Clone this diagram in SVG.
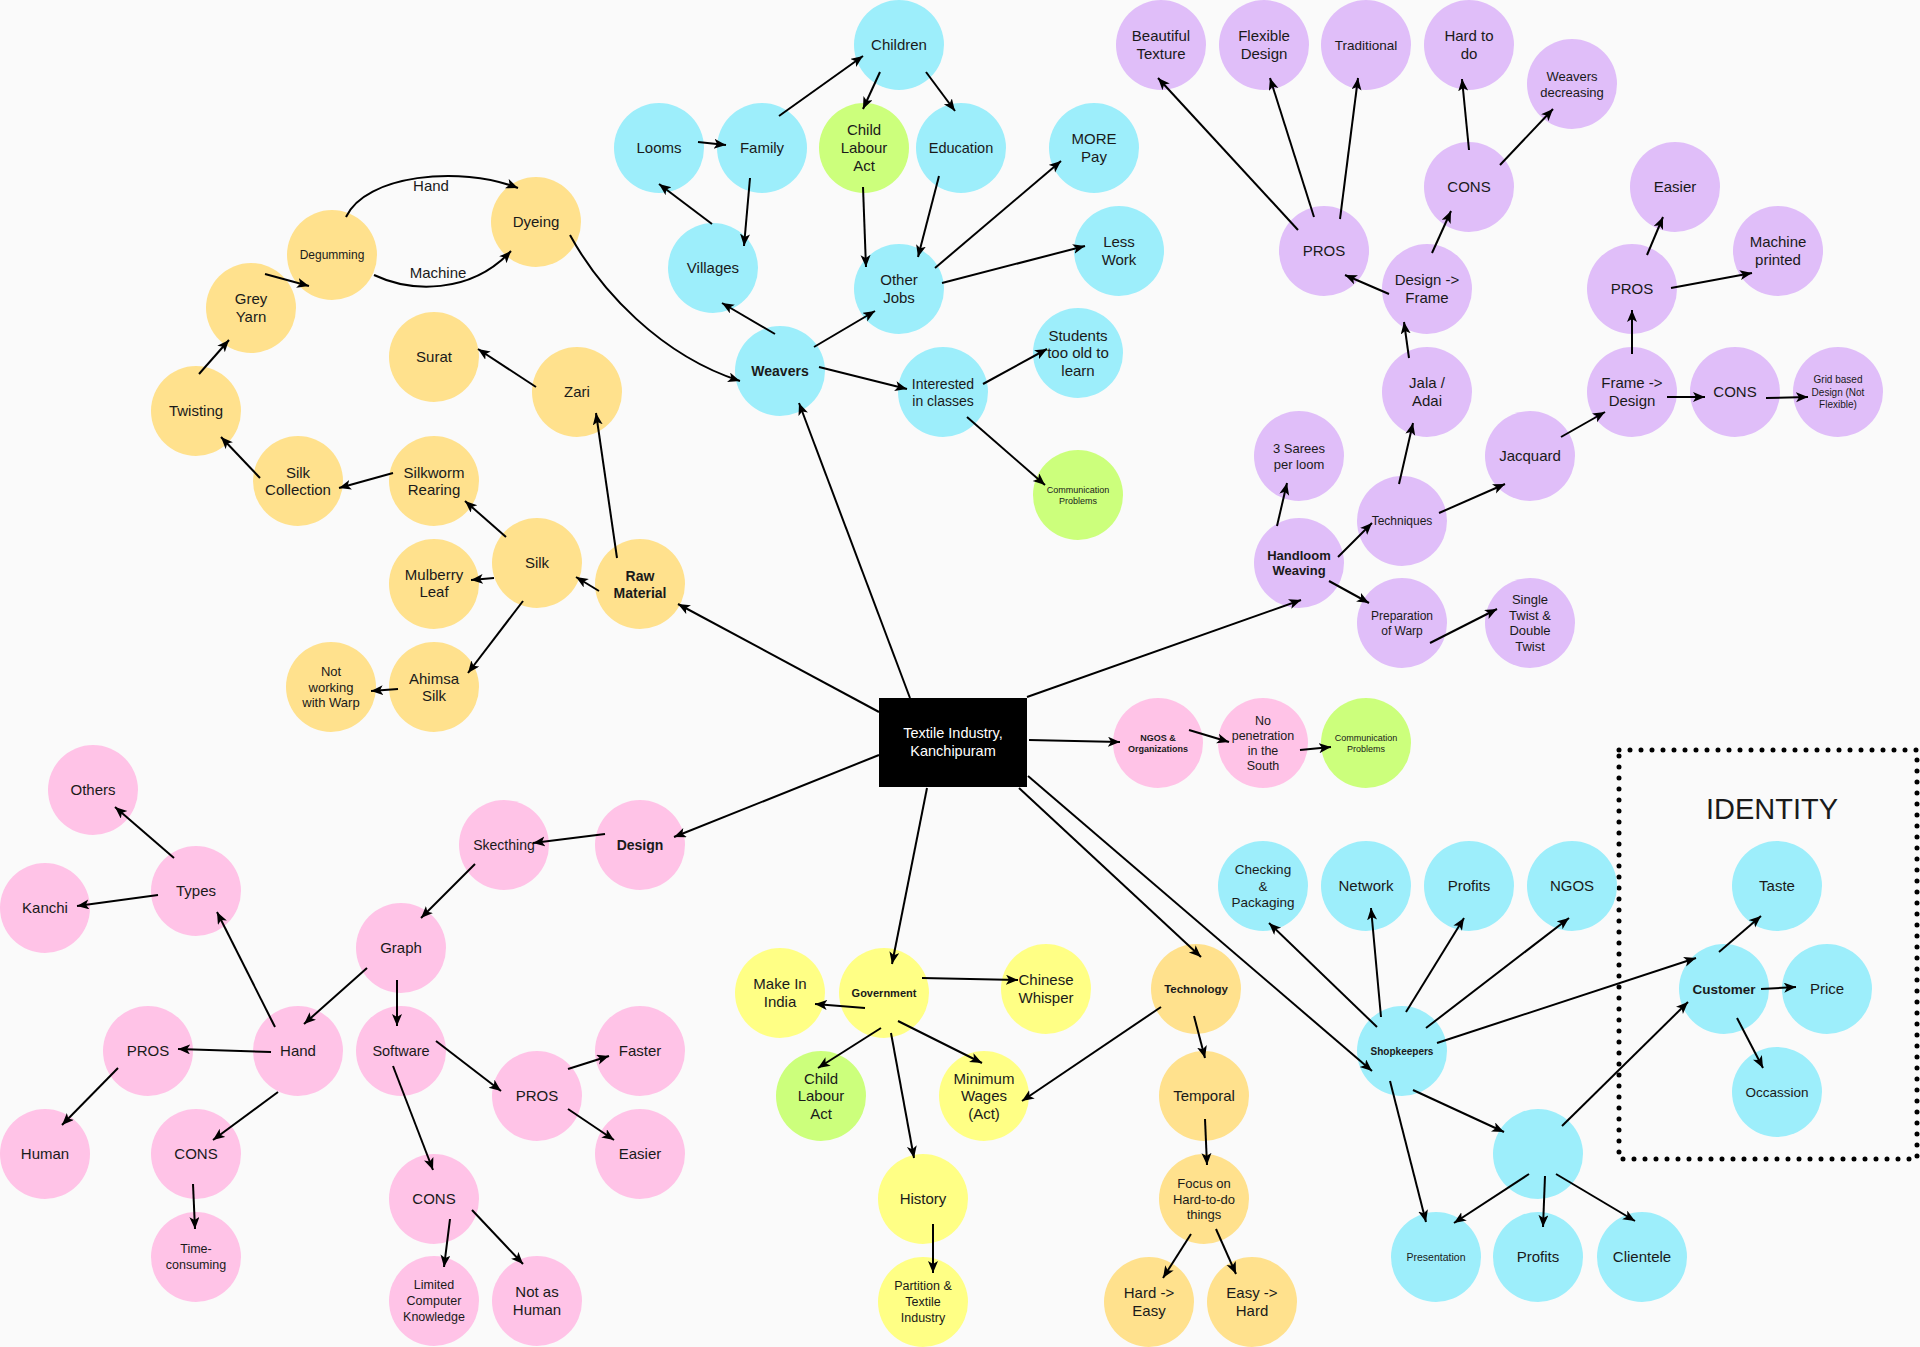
<svg xmlns="http://www.w3.org/2000/svg" width="1920" height="1347" viewBox="0 0 1920 1347">
<defs>
<marker id="a" markerUnits="userSpaceOnUse" markerWidth="14" markerHeight="12" refX="12" refY="5" orient="auto"><path d="M0,0 L12,5 L0,10 L3,5 z" fill="#000"/></marker>
<style>
text{font-family:"Liberation Sans",Arial,sans-serif;text-anchor:middle;fill:#1a1a1a;font-size:15px}
.b{font-weight:bold}
.o{fill:#FFE18D}.c{fill:#9DEEFB}.p{fill:#E0BEF9}.k{fill:#FFC3E7}.g{fill:#CCFF7C}.y{fill:#FFFF85}
#edges line,#edges path{stroke:#000;stroke-width:2;fill:none;marker-end:url(#a)}
</style>
</defs>
<rect width="1920" height="1347" fill="#FAFAFA"/>
<g id="identity">
<rect x="1619" y="750" width="298" height="409" fill="none" stroke="#000" stroke-width="5" stroke-linecap="round" stroke-dasharray="0 11"/>
<text x="1772" y="819" style="font-size:29px">IDENTITY</text>
</g>
<g id="center"><rect x="879" y="698" width="148" height="89" fill="#000"/><text x="953" y="738" style="fill:#fff;font-size:14.5px"><tspan x="953">Textile Industry,</tspan><tspan x="953" dy="18">Kanchipuram</tspan></text></g>
<g id="n-dyeing"><circle class="o" cx="536" cy="222" r="45"/><text x="536" y="227">Dyeing</text></g>
<g id="n-degumming"><circle class="o" cx="332" cy="255" r="45"/><text x="332" y="259" style="font-size:12px">Degumming</text></g>
<g id="n-greyyarn"><circle class="o" cx="251" cy="308" r="45"/><text x="251" y="304"><tspan x="251">Grey</tspan><tspan x="251" dy="18">Yarn</tspan></text></g>
<g id="n-twisting"><circle class="o" cx="196" cy="411" r="45"/><text x="196" y="416">Twisting</text></g>
<g id="n-surat"><circle class="o" cx="434" cy="357" r="45"/><text x="434" y="362">Surat</text></g>
<g id="n-zari"><circle class="o" cx="577" cy="392" r="45"/><text x="577" y="397">Zari</text></g>
<g id="n-silkcollection"><circle class="o" cx="298" cy="481" r="45"/><text x="298" y="477.5"><tspan x="298">Silk</tspan><tspan x="298" dy="17">Collection</tspan></text></g>
<g id="n-silkworm"><circle class="o" cx="434" cy="481" r="45"/><text x="434" y="477.5"><tspan x="434">Silkworm</tspan><tspan x="434" dy="17">Rearing</tspan></text></g>
<g id="n-silk"><circle class="o" cx="537" cy="563" r="45"/><text x="537" y="568">Silk</text></g>
<g id="n-mulberry"><circle class="o" cx="434" cy="584" r="45"/><text x="434" y="580"><tspan x="434">Mulberry</tspan><tspan x="434" dy="17">Leaf</tspan></text></g>
<g id="n-rawmaterial"><circle class="o" cx="640" cy="584" r="45"/><text class="b" x="640" y="580.5" style="font-size:14px"><tspan x="640">Raw</tspan><tspan x="640" dy="17">Material</tspan></text></g>
<g id="n-ahimsa"><circle class="o" cx="434" cy="687" r="45"/><text x="434" y="683.5"><tspan x="434">Ahimsa</tspan><tspan x="434" dy="17">Silk</tspan></text></g>
<g id="n-notworking"><circle class="o" cx="331" cy="687" r="45"/><text x="331" y="676" style="font-size:13px"><tspan x="331">Not</tspan><tspan x="331" dy="15.5">working</tspan><tspan x="331" dy="15.5">with Warp</tspan></text></g>
<g id="n-technology"><circle class="o" cx="1196" cy="989" r="45"/><text class="b" x="1196" y="993" style="font-size:11.5px">Technology</text></g>
<g id="n-temporal"><circle class="o" cx="1204" cy="1096" r="45"/><text x="1204" y="1101">Temporal</text></g>
<g id="n-focus"><circle class="o" cx="1204" cy="1199" r="45"/><text x="1204" y="1188" style="font-size:13px"><tspan x="1204">Focus on</tspan><tspan x="1204" dy="15.5">Hard-to-do</tspan><tspan x="1204" dy="15.5">things</tspan></text></g>
<g id="n-hardeasy"><circle class="o" cx="1149" cy="1302" r="45"/><text x="1149" y="1298"><tspan x="1149">Hard -&gt;</tspan><tspan x="1149" dy="17.5">Easy</tspan></text></g>
<g id="n-easyhard"><circle class="o" cx="1252" cy="1302" r="45"/><text x="1252" y="1298"><tspan x="1252">Easy -&gt;</tspan><tspan x="1252" dy="17.5">Hard</tspan></text></g>
<g id="n-children"><circle class="c" cx="899" cy="45" r="45"/><text x="899" y="50">Children</text></g>
<g id="n-looms"><circle class="c" cx="659" cy="148" r="45"/><text x="659" y="153">Looms</text></g>
<g id="n-family"><circle class="c" cx="762" cy="148" r="45"/><text x="762" y="153">Family</text></g>
<g id="n-education"><circle class="c" cx="961" cy="148" r="45"/><text x="961" y="153" style="font-size:14.5px">Education</text></g>
<g id="n-morepay"><circle class="c" cx="1094" cy="148" r="45"/><text x="1094" y="144"><tspan x="1094">MORE</tspan><tspan x="1094" dy="18">Pay</tspan></text></g>
<g id="n-villages"><circle class="c" cx="713" cy="268" r="45"/><text x="713" y="273">Villages</text></g>
<g id="n-otherjobs"><circle class="c" cx="899" cy="289" r="45"/><text x="899" y="285"><tspan x="899">Other</tspan><tspan x="899" dy="18">Jobs</tspan></text></g>
<g id="n-lesswork"><circle class="c" cx="1119" cy="251" r="45"/><text x="1119" y="247"><tspan x="1119">Less</tspan><tspan x="1119" dy="18">Work</tspan></text></g>
<g id="n-weavers"><circle class="c" cx="780" cy="371" r="45"/><text class="b" x="780" y="376" style="font-size:14px">Weavers</text></g>
<g id="n-interested"><circle class="c" cx="943" cy="392" r="45"/><text x="943" y="388.5" style="font-size:14px"><tspan x="943">Interested</tspan><tspan x="943" dy="17">in classes</tspan></text></g>
<g id="n-students"><circle class="c" cx="1078" cy="353" r="45"/><text x="1078" y="340.5"><tspan x="1078">Students</tspan><tspan x="1078" dy="17.5">too old to</tspan><tspan x="1078" dy="17.5">learn</tspan></text></g>
<g id="n-checking"><circle class="c" cx="1263" cy="886" r="45"/><text x="1263" y="874" style="font-size:13.5px"><tspan x="1263">Checking</tspan><tspan x="1263" dy="16.5">&amp;</tspan><tspan x="1263" dy="16.5">Packaging</tspan></text></g>
<g id="n-network"><circle class="c" cx="1366" cy="886" r="45"/><text x="1366" y="891">Network</text></g>
<g id="n-profits1"><circle class="c" cx="1469" cy="886" r="45"/><text x="1469" y="891">Profits</text></g>
<g id="n-ngos"><circle class="c" cx="1572" cy="886" r="45"/><text x="1572" y="891">NGOS</text></g>
<g id="n-taste"><circle class="c" cx="1777" cy="886" r="45"/><text x="1777" y="891">Taste</text></g>
<g id="n-customer"><circle class="c" cx="1724" cy="989" r="45"/><text class="b" x="1724" y="994" style="font-size:13.5px">Customer</text></g>
<g id="n-price"><circle class="c" cx="1827" cy="989" r="45"/><text x="1827" y="994">Price</text></g>
<g id="n-shopkeepers"><circle class="c" cx="1402" cy="1051" r="45"/><text class="b" x="1402" y="1054.5" style="font-size:10px">Shopkeepers</text></g>
<g id="n-occassion"><circle class="c" cx="1777" cy="1092" r="45"/><text x="1777" y="1097" style="font-size:13.5px">Occassion</text></g>
<g id="n-blank"><circle class="c" cx="1538" cy="1154" r="45"/></g>
<g id="n-presentation"><circle class="c" cx="1436" cy="1257" r="45"/><text x="1436" y="1261" style="font-size:10.5px">Presentation</text></g>
<g id="n-profits2"><circle class="c" cx="1538" cy="1257" r="45"/><text x="1538" y="1262">Profits</text></g>
<g id="n-clientele"><circle class="c" cx="1642" cy="1257" r="45"/><text x="1642" y="1262">Clientele</text></g>
<g id="n-beautiful"><circle class="p" cx="1161" cy="45" r="45"/><text x="1161" y="41"><tspan x="1161">Beautiful</tspan><tspan x="1161" dy="18">Texture</tspan></text></g>
<g id="n-flexible"><circle class="p" cx="1264" cy="45" r="45"/><text x="1264" y="41"><tspan x="1264">Flexible</tspan><tspan x="1264" dy="18">Design</tspan></text></g>
<g id="n-traditional"><circle class="p" cx="1366" cy="45" r="45"/><text x="1366" y="50" style="font-size:13.5px">Traditional</text></g>
<g id="n-hardtodo"><circle class="p" cx="1469" cy="45" r="45"/><text x="1469" y="41"><tspan x="1469">Hard to</tspan><tspan x="1469" dy="18">do</tspan></text></g>
<g id="n-weaversdec"><circle class="p" cx="1572" cy="84" r="45"/><text x="1572" y="80.5" style="font-size:13px"><tspan x="1572">Weavers</tspan><tspan x="1572" dy="16">decreasing</tspan></text></g>
<g id="n-cons1"><circle class="p" cx="1469" cy="187" r="45"/><text x="1469" y="192">CONS</text></g>
<g id="n-pros1"><circle class="p" cx="1324" cy="251" r="45"/><text x="1324" y="256">PROS</text></g>
<g id="n-designframe"><circle class="p" cx="1427" cy="289" r="45"/><text x="1427" y="285"><tspan x="1427">Design -&gt;</tspan><tspan x="1427" dy="18">Frame</tspan></text></g>
<g id="n-easier1"><circle class="p" cx="1675" cy="187" r="45"/><text x="1675" y="192">Easier</text></g>
<g id="n-machine"><circle class="p" cx="1778" cy="251" r="45"/><text x="1778" y="247"><tspan x="1778">Machine</tspan><tspan x="1778" dy="18">printed</tspan></text></g>
<g id="n-pros2"><circle class="p" cx="1632" cy="289" r="45"/><text x="1632" y="294">PROS</text></g>
<g id="n-jala"><circle class="p" cx="1427" cy="392" r="45"/><text x="1427" y="388"><tspan x="1427">Jala /</tspan><tspan x="1427" dy="18">Adai</tspan></text></g>
<g id="n-framedesign"><circle class="p" cx="1632" cy="392" r="45"/><text x="1632" y="388"><tspan x="1632">Frame -&gt;</tspan><tspan x="1632" dy="18">Design</tspan></text></g>
<g id="n-cons2"><circle class="p" cx="1735" cy="392" r="45"/><text x="1735" y="397">CONS</text></g>
<g id="n-grid"><circle class="p" cx="1838" cy="392" r="45"/><text x="1838" y="383" style="font-size:10px"><tspan x="1838">Grid based</tspan><tspan x="1838" dy="12.5">Design (Not</tspan><tspan x="1838" dy="12.5">Flexible)</tspan></text></g>
<g id="n-sarees"><circle class="p" cx="1299" cy="456" r="45"/><text x="1299" y="452.5" style="font-size:13px"><tspan x="1299">3 Sarees</tspan><tspan x="1299" dy="16">per loom</tspan></text></g>
<g id="n-handloom"><circle class="p" cx="1299" cy="563" r="45"/><text class="b" x="1299" y="560" style="font-size:13px"><tspan x="1299">Handloom</tspan><tspan x="1299" dy="15">Weaving</tspan></text></g>
<g id="n-techniques"><circle class="p" cx="1402" cy="521" r="45"/><text x="1402" y="525" style="font-size:12px">Techniques</text></g>
<g id="n-jacquard"><circle class="p" cx="1530" cy="456" r="45"/><text x="1530" y="461">Jacquard</text></g>
<g id="n-preparation"><circle class="p" cx="1402" cy="623" r="45"/><text x="1402" y="619.7" style="font-size:12px"><tspan x="1402">Preparation</tspan><tspan x="1402" dy="15">of Warp</tspan></text></g>
<g id="n-singletwist"><circle class="p" cx="1530" cy="623" r="45"/><text x="1530" y="604" style="font-size:13px"><tspan x="1530">Single</tspan><tspan x="1530" dy="15.5">Twist &amp;</tspan><tspan x="1530" dy="15.5">Double</tspan><tspan x="1530" dy="15.5">Twist</tspan></text></g>
<g id="n-ngosorg"><circle class="k" cx="1158" cy="743" r="45"/><text class="b" x="1158" y="740.7" style="font-size:9px"><tspan x="1158">NGOS &amp;</tspan><tspan x="1158" dy="11">Organizations</tspan></text></g>
<g id="n-nopenetration"><circle class="k" cx="1263" cy="743" r="45"/><text x="1263" y="725" style="font-size:12.5px"><tspan x="1263">No</tspan><tspan x="1263" dy="15">penetration</tspan><tspan x="1263" dy="15">in the</tspan><tspan x="1263" dy="15">South</tspan></text></g>
<g id="n-others"><circle class="k" cx="93" cy="790" r="45"/><text x="93" y="795">Others</text></g>
<g id="n-sketching"><circle class="k" cx="504" cy="845" r="45"/><text x="504" y="850" style="font-size:14px">Skecthing</text></g>
<g id="n-design"><circle class="k" cx="640" cy="845" r="45"/><text class="b" x="640" y="850" style="font-size:14px">Design</text></g>
<g id="n-types"><circle class="k" cx="196" cy="891" r="45"/><text x="196" y="896">Types</text></g>
<g id="n-kanchi"><circle class="k" cx="45" cy="908" r="45"/><text x="45" y="913">Kanchi</text></g>
<g id="n-graph"><circle class="k" cx="401" cy="948" r="45"/><text x="401" y="953">Graph</text></g>
<g id="n-pros3"><circle class="k" cx="148" cy="1051" r="45"/><text x="148" y="1056">PROS</text></g>
<g id="n-hand"><circle class="k" cx="298" cy="1051" r="45"/><text x="298" y="1056">Hand</text></g>
<g id="n-software"><circle class="k" cx="401" cy="1051" r="45"/><text x="401" y="1056" style="font-size:14.5px">Software</text></g>
<g id="n-pros4"><circle class="k" cx="537" cy="1096" r="45"/><text x="537" y="1101">PROS</text></g>
<g id="n-faster"><circle class="k" cx="640" cy="1051" r="45"/><text x="640" y="1056">Faster</text></g>
<g id="n-human"><circle class="k" cx="45" cy="1154" r="45"/><text x="45" y="1159">Human</text></g>
<g id="n-cons3"><circle class="k" cx="196" cy="1154" r="45"/><text x="196" y="1159">CONS</text></g>
<g id="n-easier2"><circle class="k" cx="640" cy="1154" r="45"/><text x="640" y="1159">Easier</text></g>
<g id="n-cons4"><circle class="k" cx="434" cy="1199" r="45"/><text x="434" y="1204">CONS</text></g>
<g id="n-time"><circle class="k" cx="196" cy="1257" r="45"/><text x="196" y="1253.4" style="font-size:12.5px"><tspan x="196">Time-</tspan><tspan x="196" dy="16">consuming</tspan></text></g>
<g id="n-limited"><circle class="k" cx="434" cy="1301" r="45"/><text x="434" y="1289.4" style="font-size:12.5px"><tspan x="434">Limited</tspan><tspan x="434" dy="16">Computer</tspan><tspan x="434" dy="16">Knowledge</tspan></text></g>
<g id="n-notashuman"><circle class="k" cx="537" cy="1301" r="45"/><text x="537" y="1297"><tspan x="537">Not as</tspan><tspan x="537" dy="17.5">Human</tspan></text></g>
<g id="n-childlabour1"><circle class="g" cx="864" cy="148" r="45"/><text x="864" y="135"><tspan x="864">Child</tspan><tspan x="864" dy="18">Labour</tspan><tspan x="864" dy="18">Act</tspan></text></g>
<g id="n-comm1"><circle class="g" cx="1078" cy="495" r="45"/><text x="1078" y="492.7" style="font-size:9px"><tspan x="1078">Communication</tspan><tspan x="1078" dy="11">Problems</tspan></text></g>
<g id="n-comm2"><circle class="g" cx="1366" cy="743" r="45"/><text x="1366" y="740.7" style="font-size:9px"><tspan x="1366">Communication</tspan><tspan x="1366" dy="11">Problems</tspan></text></g>
<g id="n-childlabour2"><circle class="g" cx="821" cy="1096" r="45"/><text x="821" y="1083.5"><tspan x="821">Child</tspan><tspan x="821" dy="17.5">Labour</tspan><tspan x="821" dy="17.5">Act</tspan></text></g>
<g id="n-makeinindia"><circle class="y" cx="780" cy="993" r="45"/><text x="780" y="989"><tspan x="780">Make In</tspan><tspan x="780" dy="17.5">India</tspan></text></g>
<g id="n-government"><circle class="y" cx="884" cy="993" r="45"/><text class="b" x="884" y="997" style="font-size:11px">Government</text></g>
<g id="n-chinese"><circle class="y" cx="1046" cy="989" r="45"/><text x="1046" y="985"><tspan x="1046">Chinese</tspan><tspan x="1046" dy="17.5">Whisper</tspan></text></g>
<g id="n-minwages"><circle class="y" cx="984" cy="1096" r="45"/><text x="984" y="1083.5"><tspan x="984">Minimum</tspan><tspan x="984" dy="17.5">Wages</tspan><tspan x="984" dy="17.5">(Act)</tspan></text></g>
<g id="n-history"><circle class="y" cx="923" cy="1199" r="45"/><text x="923" y="1204">History</text></g>
<g id="n-partition"><circle class="y" cx="923" cy="1302" r="45"/><text x="923" y="1290.4" style="font-size:12.5px"><tspan x="923">Partition &amp;</tspan><tspan x="923" dy="16">Textile</tspan><tspan x="923" dy="16">Industry</tspan></text></g>
<g id="edges">
<line x1="265" y1="274" x2="309" y2="286"/>
<line x1="199" y1="374" x2="229" y2="340"/>
<line x1="536" y1="387" x2="478" y2="349"/>
<line x1="617" y1="558" x2="596" y2="413"/>
<line x1="260" y1="478" x2="221" y2="437"/>
<line x1="393" y1="473" x2="339" y2="488"/>
<line x1="506" y1="537" x2="465" y2="501"/>
<line x1="494" y1="578" x2="471" y2="580"/>
<line x1="523" y1="601" x2="468" y2="673"/>
<line x1="398" y1="689" x2="371" y2="691"/>
<line x1="599" y1="591" x2="576" y2="577"/>
<line x1="879" y1="712" x2="678" y2="604"/>
<line x1="698" y1="142" x2="726" y2="145"/>
<line x1="779" y1="116" x2="863" y2="56"/>
<line x1="880" y1="72" x2="863" y2="109"/>
<line x1="926" y1="72" x2="955" y2="111"/>
<line x1="750" y1="178" x2="744" y2="246"/>
<line x1="712" y1="224" x2="659" y2="184"/>
<line x1="863" y1="187" x2="866" y2="267"/>
<line x1="939" y1="176" x2="918" y2="257"/>
<line x1="935" y1="268" x2="1061" y2="161"/>
<line x1="942" y1="283" x2="1085" y2="246"/>
<line x1="775" y1="334" x2="722" y2="303"/>
<line x1="814" y1="347" x2="875" y2="311"/>
<line x1="819" y1="367" x2="907" y2="389"/>
<line x1="983" y1="384" x2="1047" y2="349"/>
<line x1="967" y1="417" x2="1045" y2="485"/>
<line x1="910" y1="698" x2="799" y2="403"/>
<line x1="1298" y1="230" x2="1158" y2="78"/>
<line x1="1314" y1="217" x2="1270" y2="78"/>
<line x1="1340" y1="219" x2="1358" y2="78"/>
<line x1="1469" y1="150" x2="1462" y2="79"/>
<line x1="1500" y1="165" x2="1553" y2="109"/>
<line x1="1389" y1="294" x2="1345" y2="275"/>
<line x1="1432" y1="253" x2="1451" y2="211"/>
<line x1="1409" y1="358" x2="1404" y2="322"/>
<line x1="1647" y1="255" x2="1663" y2="217"/>
<line x1="1671" y1="288" x2="1752" y2="273"/>
<line x1="1632" y1="354" x2="1632" y2="310"/>
<line x1="1667" y1="397" x2="1705" y2="397"/>
<line x1="1766" y1="398" x2="1808" y2="397"/>
<line x1="1561" y1="437" x2="1605" y2="412"/>
<line x1="1277" y1="526" x2="1287" y2="483"/>
<line x1="1399" y1="484" x2="1413" y2="423"/>
<line x1="1338" y1="557" x2="1372" y2="523"/>
<line x1="1439" y1="513" x2="1505" y2="484"/>
<line x1="1329" y1="581" x2="1369" y2="603"/>
<line x1="1430" y1="643" x2="1497" y2="609"/>
<line x1="1027" y1="697" x2="1301" y2="600"/>
<line x1="1029" y1="740" x2="1120" y2="742"/>
<line x1="1189" y1="730" x2="1229" y2="742"/>
<line x1="1300" y1="750" x2="1331" y2="747"/>
<line x1="879" y1="755" x2="674" y2="837"/>
<line x1="605" y1="834" x2="533" y2="843"/>
<line x1="475" y1="864" x2="421" y2="918"/>
<line x1="367" y1="968" x2="304" y2="1024"/>
<line x1="397" y1="980" x2="397" y2="1026"/>
<line x1="275" y1="1027" x2="217" y2="912"/>
<line x1="174" y1="858" x2="115" y2="807"/>
<line x1="158" y1="895" x2="77" y2="906"/>
<line x1="271" y1="1052" x2="178" y2="1049"/>
<line x1="118" y1="1068" x2="62" y2="1125"/>
<line x1="278" y1="1092" x2="213" y2="1140"/>
<line x1="193" y1="1184" x2="195" y2="1229"/>
<line x1="436" y1="1041" x2="501" y2="1091"/>
<line x1="393" y1="1066" x2="433" y2="1170"/>
<line x1="568" y1="1069" x2="609" y2="1056"/>
<line x1="568" y1="1109" x2="614" y2="1140"/>
<line x1="450" y1="1219" x2="444" y2="1267"/>
<line x1="472" y1="1210" x2="523" y2="1264"/>
<line x1="927" y1="788" x2="892" y2="964"/>
<line x1="922" y1="978" x2="1018" y2="980"/>
<line x1="865" y1="1008" x2="815" y2="1004"/>
<line x1="881" y1="1028" x2="818" y2="1068"/>
<line x1="898" y1="1021" x2="982" y2="1063"/>
<line x1="891" y1="1033" x2="914" y2="1158"/>
<line x1="933" y1="1224" x2="933" y2="1273"/>
<line x1="1161" y1="1007" x2="1022" y2="1101"/>
<line x1="1194" y1="1016" x2="1205" y2="1058"/>
<line x1="1205" y1="1119" x2="1207" y2="1165"/>
<line x1="1191" y1="1234" x2="1163" y2="1278"/>
<line x1="1216" y1="1229" x2="1236" y2="1274"/>
<line x1="1019" y1="788" x2="1201" y2="957"/>
<line x1="1028" y1="776" x2="1372" y2="1071"/>
<line x1="1377" y1="1027" x2="1269" y2="923"/>
<line x1="1381" y1="1017" x2="1371" y2="908"/>
<line x1="1406" y1="1012" x2="1464" y2="918"/>
<line x1="1426" y1="1028" x2="1569" y2="918"/>
<line x1="1437" y1="1043" x2="1696" y2="958"/>
<line x1="1413" y1="1090" x2="1504" y2="1132"/>
<line x1="1390" y1="1081" x2="1426" y2="1222"/>
<line x1="1562" y1="1126" x2="1688" y2="1002"/>
<line x1="1719" y1="952" x2="1761" y2="916"/>
<line x1="1761" y1="989" x2="1796" y2="987"/>
<line x1="1737" y1="1018" x2="1763" y2="1068"/>
<line x1="1529" y1="1174" x2="1454" y2="1223"/>
<line x1="1545" y1="1176" x2="1543" y2="1227"/>
<line x1="1556" y1="1174" x2="1635" y2="1221"/>
<path d="M346,217 C365,175 460,165 518,188"/>
<path d="M374,275 C410,292 470,295 511,251"/>
<path d="M570,235 C600,290 660,355 740,381"/>
</g>
<g id="edge-labels">
<text x="431" y="191">Hand</text>
<text x="438" y="278">Machine</text>
</g>
</svg>
